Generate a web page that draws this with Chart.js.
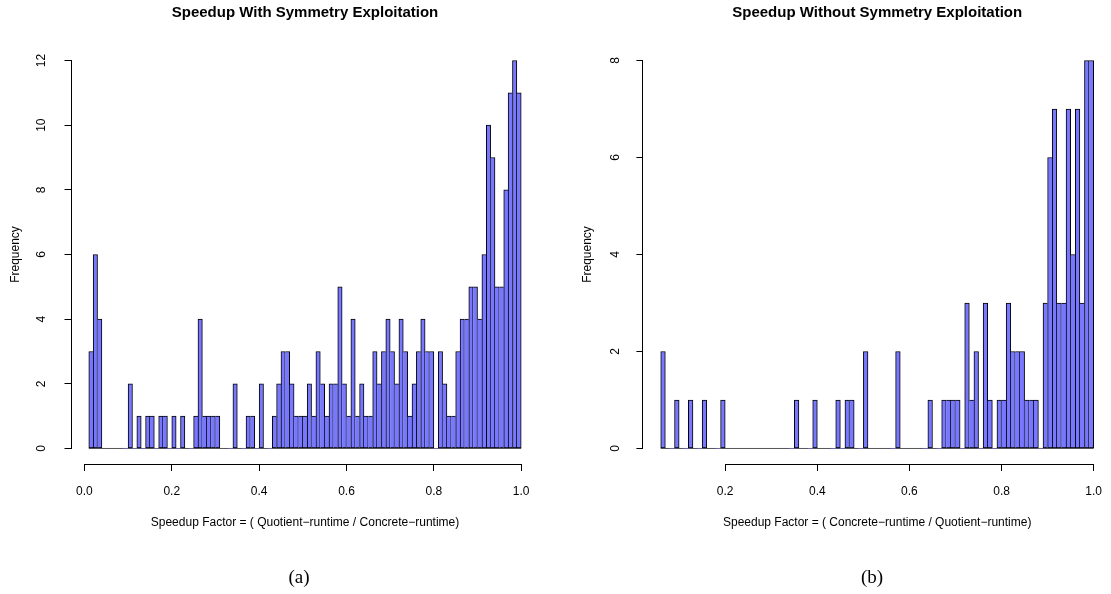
<!DOCTYPE html>
<html>
<head>
<meta charset="utf-8">
<script src="https://cdn.jsdelivr.net/npm/chart.js@4/dist/chart.umd.min.js"></script>
<style>
  body { margin: 0; background: #fff; width: 1111px; height: 594px; position: relative; overflow: hidden; }
  canvas { position: absolute; top: 0; }
  #chartA { left: 0; }
  #chartB { left: 560px; }
  .cap { position: absolute; width: 200px; text-align: center; font-family: "Liberation Serif", "DejaVu Serif", serif; font-size: 19px; line-height: 22px; top: 566px; color: #000; }
</style>
</head>
<body>
<canvas id="chartA" width="560" height="594"></canvas>
<canvas id="chartB" width="551" height="594"></canvas>
<div class="cap" style="left:199px">(a)</div>
<div class="cap" style="left:772px">(b)</div>
<script>
const binWidth = 0.01;

// (a) counts per 0.01 bin, first bin starts at 0.01
const firstBinA = 0.01;
const countsA = [
  3, 6, 4, 0, 0, 0, 0, 0, 0, 2,   // 0.01 - 0.10
  0, 1, 0, 1, 1, 0, 1, 1, 0, 1,   // 0.11 - 0.20
  0, 1, 0, 0, 1, 4, 1, 1, 1, 1,   // 0.21 - 0.30
  0, 0, 0, 2, 0, 0, 1, 1, 0, 2,   // 0.31 - 0.40
  0, 0, 1, 2, 3, 3, 2, 1, 1, 1,   // 0.41 - 0.50
  2, 1, 3, 2, 1, 2, 2, 5, 2, 1,   // 0.51 - 0.60
  4, 1, 2, 1, 1, 3, 2, 3, 4, 3,   // 0.61 - 0.70
  2, 4, 3, 1, 2, 3, 4, 3, 3, 0,   // 0.71 - 0.80
  3, 2, 1, 1, 3, 4, 4, 5, 5, 4,   // 0.81 - 0.90
  6, 10, 9, 5, 5, 8, 11, 12, 11   // 0.91 - 0.99
];
const xTicksA = [0, 0.2, 0.4, 0.6, 0.8, 1.0];
const yTicksA = [0, 2, 4, 6, 8, 10, 12];

// (b) counts per 0.01 bin, first bin starts at 0.06
const firstBinB = 0.06;
const countsB = [
  2, 0, 0, 1, 0, 0, 1, 0, 0, 1,   // 0.06 - 0.15
  0, 0, 0, 1, 0, 0, 0, 0, 0, 0,   // 0.16 - 0.25
  0, 0, 0, 0, 0, 0, 0, 0, 0, 1,   // 0.26 - 0.35
  0, 0, 0, 1, 0, 0, 0, 0, 1, 0,   // 0.36 - 0.45
  1, 1, 0, 0, 2, 0, 0, 0, 0, 0,   // 0.46 - 0.55
  0, 2, 0, 0, 0, 0, 0, 0, 1, 0,   // 0.56 - 0.65
  0, 1, 1, 1, 1, 0, 3, 1, 2, 0,   // 0.66 - 0.75
  3, 1, 0, 1, 1, 3, 2, 2, 2, 1,   // 0.76 - 0.85
  1, 1, 0, 3, 6, 7, 3, 3, 7, 4,   // 0.86 - 0.95
  7, 3, 8, 8                      // 0.96 - 0.99
];
const xTicksB = [0.2, 0.4, 0.6, 0.8, 1.0];
const yTicksB = [0, 2, 4, 6, 8];

const FONT = "'Liberation Sans', Arial, Helvetica, sans-serif";
const barFill = "#7878ff";

// R style axes: line only from first to last tick
const rAxes = {
  id: "rAxes",
  afterDraw(chart) {
    const ctx = chart.ctx;
    const x = chart.scales.x, y = chart.scales.y;
    const xt = x.ticks, yt = y.ticks;
    ctx.save();
    ctx.strokeStyle = "#000";
    ctx.lineWidth = 1;
    ctx.beginPath();
    const yy = Math.round(x.top) + 0.5;
    ctx.moveTo(x.getPixelForValue(xt[0].value), yy);
    ctx.lineTo(x.getPixelForValue(xt[xt.length - 1].value), yy);
    const xx = Math.round(y.right) - 0.5;
    ctx.moveTo(xx, y.getPixelForValue(yt[0].value));
    ctx.lineTo(xx, y.getPixelForValue(yt[yt.length - 1].value));
    ctx.stroke();
    ctx.restore();
  }
};

function makeHist(canvasId, cfg) {
  const counts = cfg.counts;
  const points = counts.map((c, i) => ({ x: +(cfg.firstBin + (i + 0.5) * binWidth).toFixed(4), y: c }));
  const lastEdge = +(cfg.firstBin + counts.length * binWidth).toFixed(4);

  // a shared edge is drawn once, by the taller of the two bars
  const edges = ctx => {
    const i = ctx.dataIndex;
    const cur = counts[i];
    const prev = i > 0 ? counts[i - 1] : 0;
    const next = i < counts.length - 1 ? counts[i + 1] : 0;
    return { top: 1, bottom: 1, left: cur > prev ? 1 : 0, right: cur >= next ? 1 : 0 };
  };

  return new Chart(document.getElementById(canvasId), {
    type: "bar",
    data: {
      datasets: [{
        type: "bar",
        data: points,
        backgroundColor: barFill,
        borderColor: "#000",
        borderSkipped: false,
        borderWidth: edges,
        barPercentage: 1,
        categoryPercentage: 1,
        order: 1
      }, {
        // empty bins show as a flat line on the baseline
        type: "line",
        data: [{ x: cfg.firstBin, y: 0 }, { x: lastEdge, y: 0 }],
        borderColor: "#555",
        borderWidth: 1,
        pointRadius: 0,
        order: 2
      }]
    },
    options: {
      responsive: false,
      animation: false,
      layout: { padding: { left: 0, right: cfg.padRight, top: 0, bottom: 60 } },
      plugins: {
        legend: { display: false },
        tooltip: { enabled: false },
        title: {
          display: true,
          text: cfg.title,
          color: "#000",
          fullSize: false,
          font: { family: FONT, size: 15, weight: "bold" },
          padding: { top: 4, bottom: 23 }
        }
      },
      scales: {
        x: {
          type: "linear",
          offset: false,
          min: cfg.xMin,
          max: cfg.xMax,
          afterBuildTicks: s => { s.ticks = cfg.xTicks.map(v => ({ value: v })); },
          afterFit: s => { s.height = 70; s.paddingLeft = 0; s.paddingRight = 0; },
          grid: { display: true, offset: false, drawOnChartArea: false, drawTicks: true, tickLength: 7, color: "#000" },
          border: { display: false },
          ticks: {
            autoSkip: false, maxRotation: 0, padding: 13, color: "#000",
            font: { family: FONT, size: 12 },
            callback: v => v.toFixed(1)
          },
          title: {
            display: true, text: cfg.xTitle, color: "#000",
            font: { family: FONT, size: 12 },
            padding: { top: 0, bottom: 4 }
          }
        },
        y: {
          min: cfg.yMin,
          max: cfg.yMax,
          afterBuildTicks: s => { s.ticks = cfg.yTicks.map(v => ({ value: v })); },
          afterFit: s => { s.width = cfg.yWidth; s.paddingTop = 0; s.paddingBottom = 0; },
          grid: { display: true, drawOnChartArea: false, drawTicks: true, tickLength: 7, color: "#000" },
          border: { display: false },
          ticks: {
            minRotation: 90, maxRotation: 90, crossAlign: "center",
            padding: cfg.yTickPad, color: "#000",
            font: { family: FONT, size: 12 }
          },
          title: {
            display: true, text: "Frequency", color: "#000",
            font: { family: FONT, size: 12 },
            padding: { top: cfg.yTitlePad, bottom: 0 }
          }
        }
      }
    },
    plugins: [rAxes]
  });
}

makeHist("chartA", {
  counts: countsA, firstBin: firstBinA,
  xTicks: xTicksA, yTicks: yTicksA,
  xMin: -0.0296, xMax: 1.0396, yMin: -0.48, yMax: 12.48,
  title: "Speedup With Symmetry Exploitation",
  xTitle: "Speedup Factor = ( Quotient\u2212runtime / Concrete\u2212runtime)",
  yWidth: 71.5, yTickPad: 16.5, yTitlePad: 8.3, padRight: 21.5
});

makeHist("chartB", {
  counts: countsB, firstBin: firstBinB,
  xTicks: xTicksB, yTicks: yTicksB,
  xMin: 0.0224, xMax: 1.0376, yMin: -0.32, yMax: 8.32,
  title: "Speedup Without Symmetry Exploitation",
  xTitle: "Speedup Factor = ( Concrete\u2212runtime / Quotient\u2212runtime)",
  yWidth: 83.4, yTickPad: 17.5, yTitlePad: 20.2, padRight: 0
});
</script>
</body>
</html>
